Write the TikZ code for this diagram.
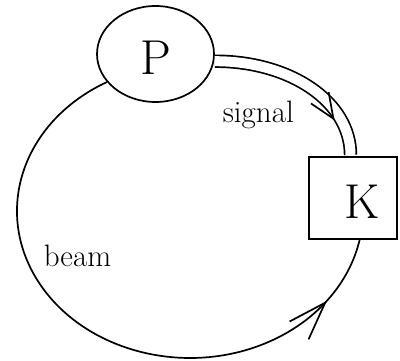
\documentclass[tikz,border=0pt]{standalone}
\usetikzlibrary{shapes.geometric,decorations.markings}
\tikzset{
  bigletter/.style={font=\fontsize{49}{49}\selectfont, inner sep=0pt, text height=42pt},
  smalltext/.style={font=\fontsize{31}{31}\selectfont, anchor=base west, inner sep=0pt}
}
\begin{document}
\begin{tikzpicture}[x=1pt,y=1pt,line width=1.7pt]
\useasboundingbox (0,0) rectangle (400,361);
\node[draw, ellipse, bigletter, minimum width=117pt, minimum height=96pt] (P) at (155.5,307) {P};
\node[draw, rectangle, bigletter, line width=2.2pt, minimum width=88pt, minimum height=82pt] (K) at (353,163) {\hspace*{18pt}K};
\node[smalltext] (signallabel) at (222,238) {signal};
\node[smalltext] (beamlabel) at (43,94) {beam};
% signal from P to K
\draw[double, double distance=10pt] ([xshift=0.8pt]P.-7) .. controls +(76,0) and +(0,53) .. ([xshift=-2.5pt,yshift=1pt]K.north);
\path[decorate, decoration={markings, mark=at position 0.77 with {\draw (-25pt,4.5pt) -- (0pt,-6pt) -- (-25pt,-16.5pt);}}]
  ([xshift=0.8pt]P.-7) .. controls +(76,0) and +(0,53) .. ([xshift=-2.5pt,yshift=1pt]K.north);
% beam round the loop
\draw[postaction={decorate}, decoration={markings, mark=at position 0.887 with {\draw (-38pt,13pt) -- (0pt,0pt) -- (-38pt,-13pt);}}]
  (P.210) arc[start angle=118.7, end angle=348.6, x radius=173, y radius=147];
\end{tikzpicture}
\end{document}
